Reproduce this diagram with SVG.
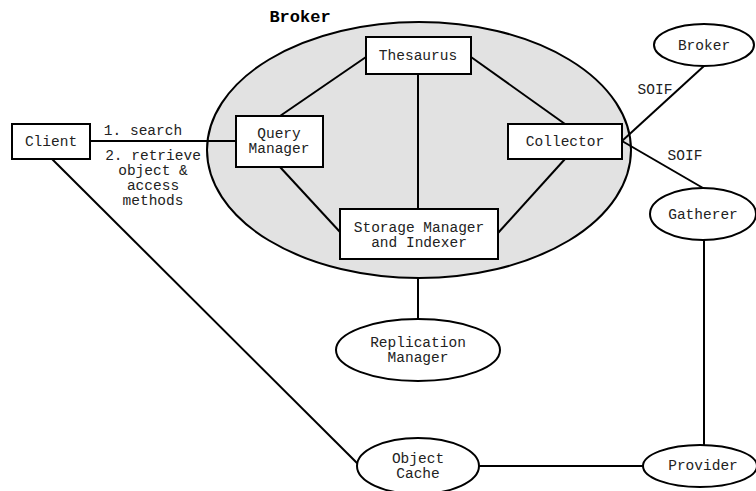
<svg xmlns="http://www.w3.org/2000/svg" width="756" height="491" viewBox="0 0 756 491">
<style>
text{font-family:"Liberation Mono","Courier New",monospace;font-size:14.5px;fill:#222;text-anchor:middle}
.t{font-weight:bold;font-size:17px;fill:#000}
.box{fill:#fff;stroke:#000;stroke-width:2}
.ell{fill:#fff;stroke:#000;stroke-width:2}
.ln{stroke:#000;stroke-width:2;fill:none}
</style>
<rect width="756" height="491" fill="#fff"/>
<g id="broker-region">
<ellipse cx="419" cy="150" rx="212" ry="128" fill="#e2e2e2" stroke="#000" stroke-width="2"/>
<text class="t" x="300" y="22">Broker</text>
</g>
<g id="connectors">
<line class="ln" x1="90" y1="141" x2="236" y2="141"/>
<line class="ln" x1="280" y1="116" x2="366" y2="57"/>
<line class="ln" x1="280" y1="167" x2="340" y2="232"/>
<line class="ln" x1="418" y1="74" x2="418" y2="209"/>
<line class="ln" x1="471" y1="57" x2="565" y2="124"/>
<line class="ln" x1="565" y1="159" x2="498" y2="233"/>
<line class="ln" x1="622" y1="141" x2="704" y2="66"/>
<line class="ln" x1="622" y1="141" x2="703" y2="188"/>
<line class="ln" x1="704" y1="240" x2="704" y2="445"/>
<line class="ln" x1="479" y1="466" x2="643" y2="466"/>
<line class="ln" x1="52" y1="159" x2="358" y2="464"/>
<line class="ln" x1="418" y1="278" x2="418" y2="319"/>
<text x="143" y="135">1. search</text>
<text x="153" y="160">2. retrieve</text>
<text x="153" y="175">object &amp;</text>
<text x="153" y="190">access</text>
<text x="153" y="205">methods</text>
<text x="655" y="94">SOIF</text>
<text x="685" y="160">SOIF</text>
</g>
<g id="client"><rect class="box" x="12" y="124" width="78" height="35"/><text x="51" y="146">Client</text></g>
<g id="query-manager"><rect class="box" x="236" y="116" width="87" height="51"/><text x="279" y="138">Query</text><text x="279" y="153">Manager</text></g>
<g id="thesaurus"><rect class="box" x="366" y="37" width="105" height="37"/><text x="418" y="60">Thesaurus</text></g>
<g id="collector"><rect class="box" x="508" y="124" width="114" height="35"/><text x="565" y="146">Collector</text></g>
<g id="storage-manager"><rect class="box" x="340" y="209" width="158" height="50"/><text x="419" y="232">Storage Manager</text><text x="419" y="247">and Indexer</text></g>
<g id="broker"><ellipse class="ell" cx="704" cy="45" rx="50" ry="21"/><text x="704" y="50">Broker</text></g>
<g id="gatherer"><ellipse class="ell" cx="703" cy="214" rx="53" ry="26"/><text x="703" y="219">Gatherer</text></g>
<g id="replication-manager"><ellipse class="ell" cx="418" cy="350" rx="82" ry="31"/><text x="418" y="347">Replication</text><text x="418" y="362">Manager</text></g>
<g id="object-cache"><ellipse class="ell" cx="418" cy="466" rx="61" ry="28"/><text x="418" y="463">Object</text><text x="418" y="478">Cache</text></g>
<g id="provider"><ellipse class="ell" cx="700" cy="466" rx="57" ry="21"/><text x="703" y="470">Provider</text></g>
</svg>
